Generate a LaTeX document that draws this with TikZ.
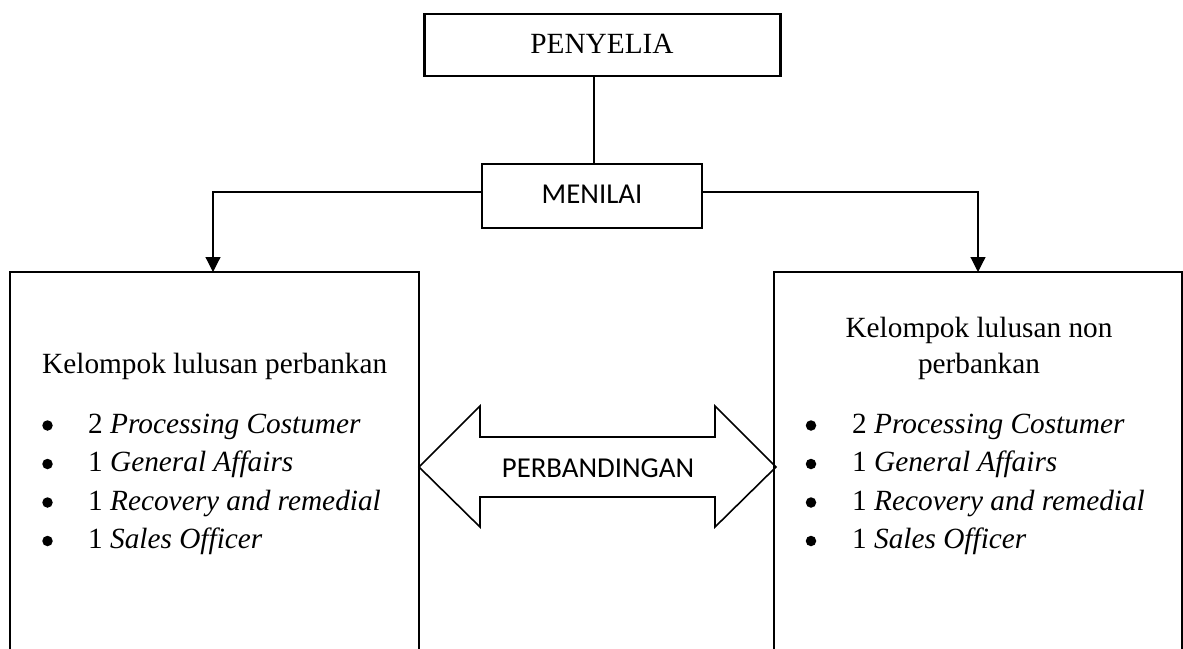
\documentclass[tikz,border=0pt]{standalone}
\usepackage{fontspec}
\setmainfont{Liberation Serif}
\newfontfamily\calibri{Carlito}
\usetikzlibrary{arrows.meta}
\begin{document}
\begin{tikzpicture}[x=1pt,y=-1pt,
  box/.style={draw,line width=2.6pt},
  conn/.style={draw,line width=1.2pt},
  tip/.style={-{Triangle[width=15pt,length=15pt]}},
  serif/.style={font=\fontsize{29.3}{36}\selectfont,inner sep=0pt},
  sans/.style={font=\calibri\fontsize{28.8}{36}\selectfont,inner sep=0pt},
  dot/.style={circle,fill,inner sep=0pt,minimum size=10.5pt},
  ]
\useasboundingbox (0,0) rectangle (1183,648);
\clip (0,0) rectangle (1183,648);
% top boxes
\draw[box] (424.5,14) rectangle (780.5,76);
\node[serif,anchor=base] (pen) at (602,53) {PENYELIA};
\coordinate (penB) at (594,76);
\draw[line width=1.8pt] (482,164) rectangle (702,228);
\node[sans,anchor=base] (men) at (592,203) {MENILAI};
\coordinate (menT) at (594,164);
\coordinate (menL) at (482,192);
\coordinate (menR) at (702,192);
\draw[conn] (penB) -- (menT);
% big boxes
\draw[box] (10,272) rectangle (419,700);
\draw[box] (774,272) rectangle (1182,700);
\coordinate (lt) at (213,272);
\coordinate (rt) at (978,272);
\draw[conn,tip] (menL) -| (lt);
\draw[conn,tip] (menR) -| (rt);
% double arrow
\draw[line width=1.6pt,line join=miter]
  (419,467) -- (480,406) -- (480,437) -- (715,437) -- (715,406) -- (776,467)
  -- (715,527) -- (715,497) -- (480,497) -- (480,527) -- cycle;
\node[sans,anchor=base] (perb) at (598,477) {PERBANDINGAN};
% left text
\node[serif,anchor=base west] (lt1) at (42,373) {Kelompok lulusan perbankan};
\foreach \y/\n/\t [count=\i] in {433/2/Processing Costumer,471.5/1/General Affairs,510/1/Recovery and remedial,548.5/1/Sales Officer}{
  \node[dot] (lb\i) at (47.5,\y-7.5) {};
  \node[serif,anchor=base west] (ll\i) at (88,\y) {\n\ \textit{\t}};
}
% right text
\node[serif,anchor=base] (rt1) at (979,337) {Kelompok lulusan non};
\node[serif,anchor=base] (rt2) at (979,373) {perbankan};
\foreach \y/\n/\t [count=\i] in {433/2/Processing Costumer,471.5/1/General Affairs,510/1/Recovery and remedial,548.5/1/Sales Officer}{
  \node[dot] (rb\i) at (811,\y-7.5) {};
  \node[serif,anchor=base west] (rl\i) at (852,\y) {\n\ \textit{\t}};
}
\end{tikzpicture}
\end{document}
